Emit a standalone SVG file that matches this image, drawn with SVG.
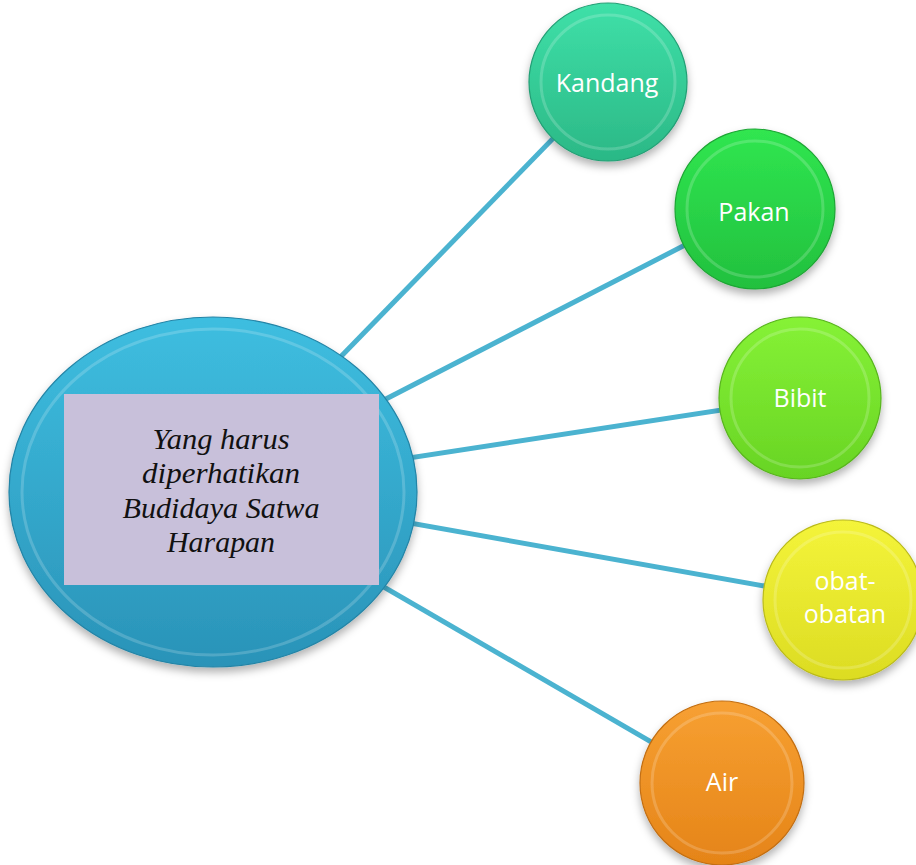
<svg xmlns="http://www.w3.org/2000/svg" width="916" height="865" viewBox="0 0 916 865">
<defs>
<style>
.conn{stroke:#4BB3D0;stroke-width:5;fill:none;stroke-linecap:butt}
.lbl{font-family:"Open Sans","Liberation Sans",sans-serif;font-size:25px;fill:#ffffff;text-anchor:middle}
.ctr{font-family:"Liberation Serif","DejaVu Serif",serif;font-style:italic;font-size:30px;fill:#111111;text-anchor:middle}
.inner{fill:none;stroke:#ffffff;stroke-opacity:0.18;stroke-width:3}
</style>
<filter id="sh" x="-20%" y="-20%" width="140%" height="150%">
<feDropShadow dx="0" dy="5" stdDeviation="4" flood-color="#000000" flood-opacity="0.3"/>
</filter>
<linearGradient id="gMain" x1="0" y1="0" x2="0" y2="1">
<stop offset="0" stop-color="#3EBEE0"/>
<stop offset="1" stop-color="#2A93B8"/>
</linearGradient>
<linearGradient id="gK" x1="0" y1="0" x2="0" y2="1"><stop offset="0" stop-color="#3FE0A8"/><stop offset="1" stop-color="#2BB886"/></linearGradient>
<linearGradient id="gP" x1="0" y1="0" x2="0" y2="1"><stop offset="0" stop-color="#30E650"/><stop offset="1" stop-color="#22C03E"/></linearGradient>
<linearGradient id="gB" x1="0" y1="0" x2="0" y2="1"><stop offset="0" stop-color="#86F236"/><stop offset="1" stop-color="#68D424"/></linearGradient>
<linearGradient id="gO" x1="0" y1="0" x2="0" y2="1"><stop offset="0" stop-color="#F4F43A"/><stop offset="1" stop-color="#DCDC22"/></linearGradient>
<linearGradient id="gA" x1="0" y1="0" x2="0" y2="1"><stop offset="0" stop-color="#F7A032"/><stop offset="1" stop-color="#E58418"/></linearGradient>
</defs>
<rect width="916" height="865" fill="#ffffff"/>
<g id="connectors">
<line class="conn" x1="213" y1="488" x2="608" y2="82"/>
<line class="conn" x1="213" y1="488" x2="755" y2="209"/>
<line class="conn" x1="213" y1="488" x2="800" y2="398"/>
<line class="conn" x1="213" y1="488" x2="843" y2="600"/>
<line class="conn" x1="213" y1="488" x2="722" y2="783"/>
</g>
<g id="center">
<ellipse cx="213" cy="492" rx="204" ry="175" fill="url(#gMain)" filter="url(#sh)" stroke="#2484A6" stroke-width="1.2"/>
<ellipse cx="213" cy="492" rx="191" ry="163" class="inner"/>
<rect x="64" y="394" width="315" height="191" fill="#C8C0DA"/>
<text class="ctr" x="221" y="449" textLength="137" lengthAdjust="spacingAndGlyphs">Yang harus</text>
<text class="ctr" x="221" y="483" textLength="158" lengthAdjust="spacingAndGlyphs">diperhatikan</text>
<text class="ctr" x="221" y="518" textLength="197" lengthAdjust="spacingAndGlyphs">Budidaya Satwa</text>
<text class="ctr" x="221" y="552" textLength="108" lengthAdjust="spacingAndGlyphs">Harapan</text>
</g>
<g id="kandang">
<circle cx="608" cy="82" r="79" fill="url(#gK)" filter="url(#sh)" stroke="#239E74" stroke-width="1.2"/>
<circle cx="608" cy="82" r="67" class="inner"/>
<text class="lbl" x="607" y="92">Kandang</text>
</g>
<g id="pakan">
<circle cx="755" cy="209" r="80" fill="url(#gP)" filter="url(#sh)" stroke="#1DA534" stroke-width="1.2"/>
<circle cx="755" cy="209" r="68" class="inner"/>
<text class="lbl" x="754" y="221">Pakan</text>
</g>
<g id="bibit">
<circle cx="800" cy="398" r="81" fill="url(#gB)" filter="url(#sh)" stroke="#58B41E" stroke-width="1.2"/>
<circle cx="800" cy="398" r="69" class="inner"/>
<text class="lbl" x="800" y="407">Bibit</text>
</g>
<g id="obat">
<circle cx="843" cy="600" r="80" fill="url(#gO)" filter="url(#sh)" stroke="#BABA1A" stroke-width="1.2"/>
<circle cx="843" cy="600" r="68" class="inner"/>
<text class="lbl" x="845" y="590">obat-</text>
<text class="lbl" x="845" y="623">obatan</text>
</g>
<g id="air">
<circle cx="722" cy="783" r="82" fill="url(#gA)" filter="url(#sh)" stroke="#C26E12" stroke-width="1.2"/>
<circle cx="722" cy="783" r="70" class="inner"/>
<text class="lbl" x="722" y="791">Air</text>
</g>
</svg>
